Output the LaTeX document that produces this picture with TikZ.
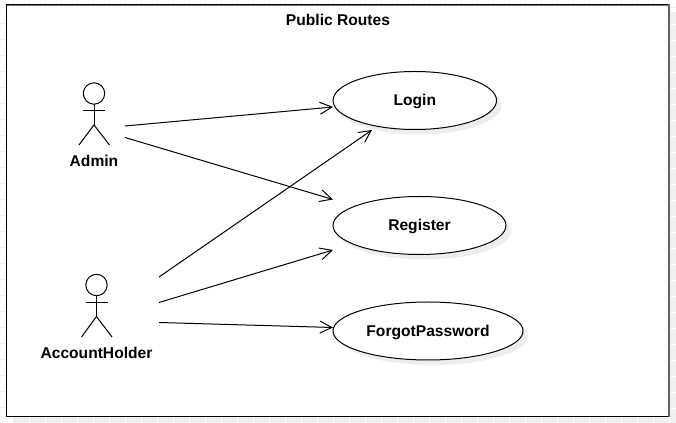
\documentclass[tikz,border=0pt]{standalone}
\usepackage{fontspec}
\setmainfont{Liberation Sans}
\newcommand{\uctext}[1]{\raisebox{-4.1pt}[0pt][0pt]{#1}}
\tikzset{
  x=0.75pt,y=-0.75pt,
  ln/.style={draw=black,line width=0.75pt},
  uc/.style={ellipse,draw=black,line width=0.75pt,fill=white,inner sep=0pt,font=\bfseries\fontsize{11.7pt}{13pt}\selectfont},
  lbl/.style={font=\bfseries\fontsize{11.7pt}{13pt}\selectfont,inner sep=0pt},
  arr/.style={draw=black,line width=0.75pt,-{Straight Barb[length=9pt,width=9pt,line width=0.75pt]}},
}
\usetikzlibrary{shapes.geometric,arrows.meta}
\begin{document}
\begin{tikzpicture}
\useasboundingbox (0,0) rectangle (676,423);
\fill[white] (0,0) rectangle (676,423);
\foreach \y in {8,24,...,423} \draw[black!6,line width=0.75pt] (0,\y) -- (676,\y);
\foreach \x in {13,29,...,676} \draw[black!6,line width=0.75pt] (\x,0) -- (\x,423);
\fill[black!6] (14,12) rectangle (676,423);
\foreach \y in {24,40,...,423} \draw[white,line width=0.5pt] (669,\y) -- (676,\y);
\foreach \x in {29,45,...,676} \draw[white,line width=0.5pt] (\x,417) -- (\x,423);
\fill[white] (6.5,4.5) rectangle (668.5,416.5);
\draw[black!55,line width=0.75pt] (6.5,5.6) -- (668.5,5.6);
\draw[black,line width=1pt] (668.5,4.5) -- (6.5,4.5) -- (6.5,416.8) -- (668.5,416.8);
\draw[black!62,line width=1.5pt] (669,4) -- (669,417.3);
\node[lbl] (title) at (338,20) {Public Routes};
% shadows
\fill[black!7] (419.5,105.5) ellipse [x radius=82,y radius=29];
\fill[black!7] (424.5,230.5) ellipse [x radius=87,y radius=29];
\fill[black!7] (433,336) ellipse [x radius=95,y radius=29];
\node[uc,minimum width=163.5pt*0.75,minimum height=58pt*0.75] (login) at (414.8,100.5) {\uctext{Login}};
\node[uc,minimum width=173pt*0.75,minimum height=58pt*0.75] (register) at (419.5,225.5) {\uctext{Register}};
\node[uc,minimum width=190pt*0.75,minimum height=58pt*0.75] (forgot) at (428,331) {\uctext{ForgotPassword}};
% Admin actor
\draw[ln] (94,93.5) circle [radius=10.7];
\coordinate (ahip) at (94,125);
\draw[ln] (94,104) -- (ahip);
\draw[ln] (83,111) -- (105,111);
\draw[ln] (79,145) -- (ahip) -- (109.5,145);
\node[lbl] (admin) at (94,161) {Admin};
% AccountHolder actor
\draw[ln] (96.5,285) circle [radius=10.7];
\coordinate (bhip) at (96.5,316.5);
\draw[ln] (96.5,296) -- (bhip);
\draw[ln] (85.5,303) -- (107.5,303);
\draw[ln] (81.5,337) -- (bhip) -- (112,337);
\node[lbl] (holder) at (96.5,352.5) {AccountHolder};
% connectors
\coordinate (a1) at (125,126);
\coordinate (a2) at (125,137.5);
\coordinate (b1) at (159,277);
\coordinate (b2) at (159,302.5);
\coordinate (b3) at (159,322.5);
\coordinate (l1) at (333,107);
\coordinate (l2) at (372,130);
\coordinate (r1) at (333,199.5);
\coordinate (r2) at (333,250);
\coordinate (f1) at (333,327.5);
\draw[arr] (a1) -- (l1);
\draw[arr] (a2) -- (r1);
\draw[arr] (b1) -- (l2);
\draw[arr] (b2) -- (r2);
\draw[arr] (b3) -- (f1);
\end{tikzpicture}
\end{document}
